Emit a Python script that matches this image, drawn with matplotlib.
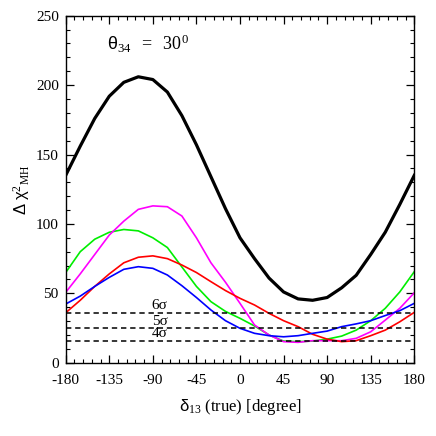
import numpy as np
import matplotlib.pyplot as plt
from matplotlib.ticker import MultipleLocator

plt.rcParams['font.family'] = ['Liberation Serif', 'DejaVu Serif']
plt.rcParams['mathtext.fontset'] = 'custom'
plt.rcParams['mathtext.rm'] = 'Liberation Serif'
plt.rcParams['mathtext.it'] = 'Liberation Serif:italic'
plt.rcParams['mathtext.sf'] = 'Liberation Sans'
plt.rcParams['axes.unicode_minus'] = False

# delta_13 (true) grid, degrees
delta = np.arange(-180, 181, 15)

# Delta chi^2_MH curves
chi_negro = [135, 156, 176, 192, 202, 206, 204, 195, 178, 157, 134, 111,
             90, 75, 61, 51, 46, 45, 47, 54, 63, 78, 94, 114, 135]
chi_verde = [65, 80, 89, 94, 96, 95, 90, 83, 69, 55, 44, 37,
             32, 26.5, 20, 15.6, 15.2, 15.6, 17, 19.2, 23.5, 30.3, 39.2, 51, 65.6]
chi_rojo = [36, 45, 55, 64, 72, 76, 77, 75, 70.4, 65, 58.4, 52,
            46.4, 41.6, 35.6, 30.3, 26, 20.5, 17, 15.2, 15.9, 19.5, 23.5, 29.5, 36.3]
chi_azul = [42.3, 48, 55, 61.5, 67.3, 69.2, 68, 63.2, 55.5, 47, 38, 30.3,
            24.8, 21.2, 19.5, 18.7, 19.5, 21.2, 22.8, 26, 28, 30.3, 34, 37.5, 42.8]
chi_magenta = [50.7, 64, 78, 92, 102, 110.5, 113, 112.4, 105.7, 90, 72, 58,
               42.8, 27.2, 20, 15.2, 14.7, 15.9, 15.9, 15.9, 17.6, 22.3, 30.7, 39.2, 50.4]

# niveles de significancia
niveles = [36, 25, 16]
etiquetas_niveles = ["6σ", "5σ", "4σ"]

fig = plt.figure(figsize=(4.36, 4.36), dpi=100)
ax = fig.add_axes([0.1507, 0.168, 0.7995, 0.796])

ax.plot(delta, chi_verde, color="#00ee00", lw=1.2)
ax.plot(delta, chi_magenta, color="#ff00ff", lw=1.2)
ax.plot(delta, chi_rojo, color="#ff0000", lw=1.2)
ax.plot(delta, chi_azul, color="#0000ff", lw=1.2)
ax.plot(delta, chi_negro, color="black", lw=2.3)

for nivel, etiqueta in zip(niveles, etiquetas_niveles):
    ax.axhline(nivel, color="black", lw=1.1, ls=(0, (3.5, 2.5)))
    ax.text(-83, nivel + 0.3, etiqueta, ha="center", va="bottom", fontsize=11)

ax.set_xlim(-180, 180)
ax.set_ylim(0, 250)
ax.xaxis.set_major_locator(MultipleLocator(45))
ax.xaxis.set_minor_locator(MultipleLocator(9))
ax.yaxis.set_major_locator(MultipleLocator(50))
ax.yaxis.set_minor_locator(MultipleLocator(10))
ax.tick_params(which="both", direction="in", top=True, right=True, labelsize=11)
ax.tick_params(axis="x", pad=8)
ax.tick_params(axis="y", pad=5)
ax.tick_params(which="major", length=6, width=0.9)
ax.tick_params(which="minor", length=3, width=0.8)
for s in ax.spines.values():
    s.set_linewidth(1.0)

ax.set_xlabel(r"$\mathsf{\delta}_{13}$ (true) [degree]", fontsize=12, labelpad=7)
ax.set_ylabel(r"$\mathsf{\Delta\ \chi}^{2}{}_{\mathrm{MH}}$", fontsize=12, labelpad=3)

ax.text(-137, 230, r"$\mathsf{\theta}_{34}\ \ \mathrm{=\ \ 30^{0}}$", fontsize=13, ha="left", va="center")

fig.savefig("out.png", dpi=100)
